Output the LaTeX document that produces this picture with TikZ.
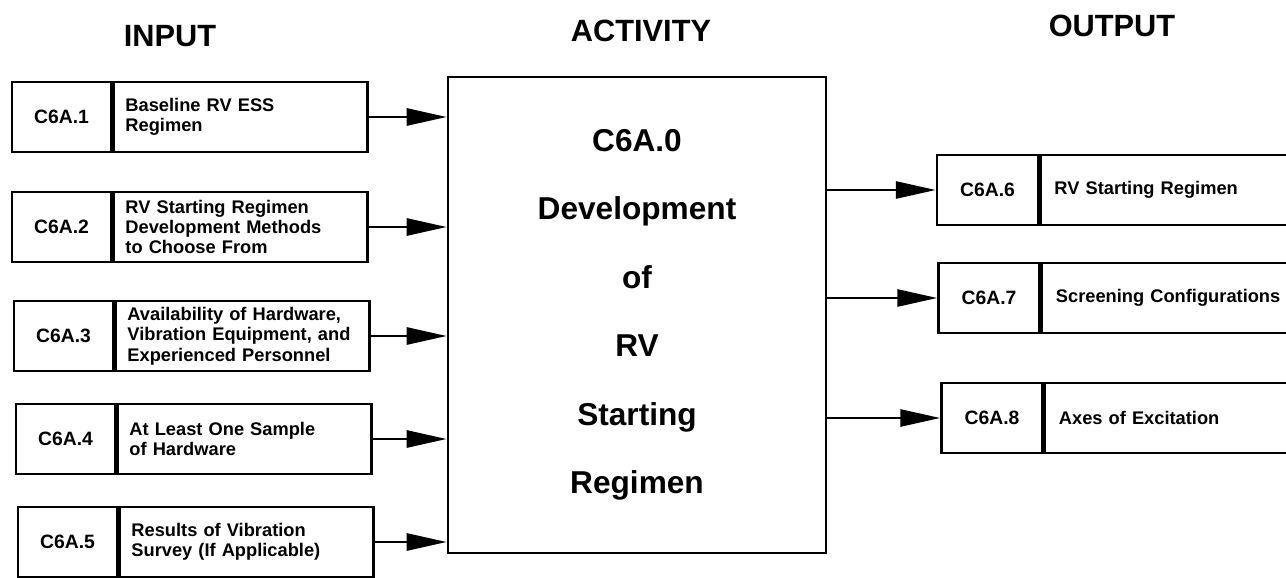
\documentclass[tikz,border=0pt]{standalone}
\usepackage{fontspec}
\setmainfont{Liberation Sans}
\usetikzlibrary{positioning, calc, arrows.meta}

\begin{document}
\begin{tikzpicture}[x=0.02cm, y=-0.02cm,
		idcell/.style={shape=rectangle, draw, line width=1.4pt, minimum width=1.98cm, minimum height=1.4cm, inner sep=0pt, font=\fontsize{11}{12}\selectfont\bfseries},
		txtcell/.style={shape=rectangle, draw, line width=1.4pt, minimum width=5.08cm, minimum height=1.4cm, text width=4.6cm, inner xsep=0.24cm, inner ysep=0pt, align=left, font=\fontsize{10.4}{11.6}\selectfont\bfseries},
		head/.style={font=\fontsize{17.5}{20}\selectfont\bfseries},
		flow/.style={line width=1.6pt, -{Triangle[length=0.8cm, width=0.34cm]}}]
		\clip (0, 0) rectangle (1286, 578);
		
		\node[head] (hin) at (170, 36) {INPUT};
		\node[head] (hact) at (641, 31) {ACTIVITY};
		\node[head] (hout) at (1112, 26) {OUTPUT};
		
		\node[shape=rectangle, draw, line width=1.5pt, minimum width=7.56cm, minimum height=9.52cm, align=center, font=\fontsize{18}{39}\selectfont\bfseries] (act) at (637, 315) {C6A.0\\Development\\of\\RV\\Starting\\Regimen};
		
		% inputs
		\node[idcell] (i1) at (61.5, 117) {C6A.1};
		\node[txtcell, right=0pt of i1] (t1) {Baseline RV ESS\\Regimen};
		\node[idcell] (i2) at (61.5, 227) {C6A.2};
		\node[txtcell, right=0pt of i2] (t2) {RV Starting Regimen\\Development Methods\\to Choose From};
		\node[idcell] (i3) at (63.5, 336) {C6A.3};
		\node[txtcell, right=0pt of i3] (t3) {Availability of Hardware,\\Vibration Equipment, and\\Experienced Personnel};
		\node[idcell] (i4) at (65.5, 439) {C6A.4};
		\node[txtcell, right=0pt of i4] (t4) {At Least One Sample\\of Hardware};
		\node[idcell] (i5) at (67.5, 542) {C6A.5};
		\node[txtcell, right=0pt of i5] (t5) {Results of Vibration\\Survey (If Applicable)};
		
		\foreach \k in {1,...,5}
			\draw[flow] (t\k.east) -- (t\k.east -| act.west);
		
		% outputs
		\node[idcell, minimum width=2.02cm] (o6) at (987.5, 190) {C6A.6};
		\node[txtcell, right=0pt of o6, inner xsep=0.28cm] (u6) {RV Starting Regimen};
		\node[idcell, minimum width=2.02cm] (o7) at (989, 298) {C6A.7};
		\node[txtcell, right=0pt of o7, inner xsep=0.28cm] (u7) {Screening Configurations};
		\node[idcell, minimum width=2.02cm] (o8) at (992, 418) {C6A.8};
		\node[txtcell, right=0pt of o8, inner xsep=0.28cm] (u8) {Axes of Excitation};
		
		\foreach \k in {6,7,8}
			\draw[flow] (act.east |- o\k.west) -- (o\k.west);
	\end{tikzpicture}
\end{document}
